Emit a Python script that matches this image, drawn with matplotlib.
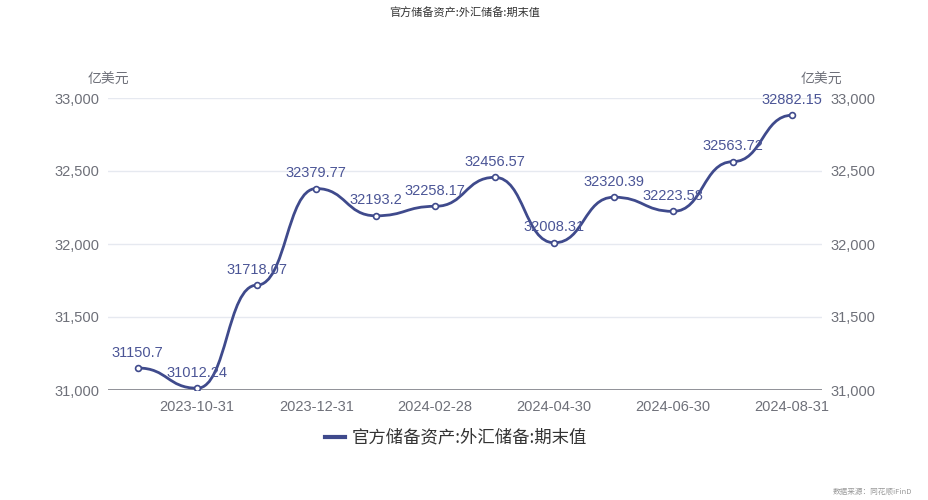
import matplotlib.pyplot as plt
import numpy as np
from matplotlib.path import Path
from matplotlib.patches import PathPatch

plt.rcParams['font.family'] = ['Liberation Sans', 'Noto Sans CJK SC', 'DejaVu Sans']

# 数据
dates = ['2023-09-30', '2023-10-31', '2023-11-30', '2023-12-31', '2024-01-31', '2024-02-28',
         '2024-03-31', '2024-04-30', '2024-05-31', '2024-06-30', '2024-07-31', '2024-08-31']
values = [31150.7, 31012.24, 31718.07, 32379.77, 32193.2, 32258.17,
          32456.57, 32008.31, 32320.39, 32223.58, 32563.72, 32882.15]
value_labels = ['31150.7', '31012.24', '31718.07', '32379.77', '32193.2', '32258.17',
                '32456.57', '32008.31', '32320.39', '32223.58', '32563.72', '32882.15']
yticks = [31000, 31500, 32000, 32500, 33000]
title = '官方储备资产:外汇储备:期末值'
unit = '亿美元'
source = '数据来源：同花顺iFinD'

line_color = '#3f4a8c'
label_color = '#4b5596'
tick_color = '#6e7079'
cjk = ['Noto Sans CJK SC', 'DejaVu Sans']


def smooth_path(xs, ys, smooth=0.5):
    # 每个点切线水平的平滑曲线 (类似 smoothMonotone: 'x')
    verts = [(xs[0], ys[0])]
    codes = [Path.MOVETO]
    for i in range(1, len(xs)):
        dx = xs[i] - xs[i - 1]
        verts += [(xs[i - 1] + dx * smooth, ys[i - 1]),
                  (xs[i] - dx * smooth, ys[i]),
                  (xs[i], ys[i])]
        codes += [Path.CURVE4] * 3
    return Path(verts, codes)


fig = plt.figure(figsize=(9.29, 5.0), dpi=100)
ax = fig.add_axes([108 / 929, 110 / 500, 714 / 929, 292 / 500])
n = len(values)
x = np.arange(n)
ax.set_xlim(-0.5, n - 0.5)
ax.set_ylim(31000, 33000)

ax.add_patch(PathPatch(smooth_path(x, values), fill=False, edgecolor=line_color, lw=2, zorder=3))
ax.plot(x, values, 'o', ms=4.2, mfc='white', mec=line_color, mew=1.2, zorder=4)

for xi, v, t in zip(x, values, value_labels):
    ax.annotate(t, (xi, v), xytext=(0, 6), textcoords='offset points', ha='center', va='bottom',
                fontsize=10.5, color=label_color, zorder=5)

# 网格和坐标轴
for yt in yticks[1:]:
    ax.axhline(yt, color='#e6e9f0', lw=1, zorder=1)
for s in ax.spines.values():
    s.set_visible(False)
ax.axhline(31000, color='#6e7079', lw=1.8, zorder=2)

ax.set_yticks(yticks)
ax.set_yticklabels([f'{t:,}' for t in yticks])
ax.tick_params(axis='y', length=0, pad=6, labelsize=10.5, labelcolor=tick_color,
               left=True, right=True, labelleft=True, labelright=True)
ax.set_xticks(x[1::2])
ax.set_xticklabels(dates[1::2])
ax.tick_params(axis='x', length=0, pad=7, labelsize=10.5, labelcolor=tick_color)

fig.text(108 / 929, 1 - 80 / 500, unit, ha='center', va='center', fontsize=10, color=tick_color,
         family=cjk)
fig.text(821 / 929, 1 - 80 / 500, unit, ha='center', va='center', fontsize=10, color=tick_color,
         family=cjk)
fig.text(0.5, 1 - 12 / 500, title, ha='center', va='center', fontsize=8, color='#333333',
         family=cjk)

# 图例
fig.lines.append(plt.Line2D([325 / 929, 345 / 929], [1 - 437 / 500] * 2, transform=fig.transFigure,
                            color=line_color, lw=3))
fig.text(352 / 929, 1 - 437 / 500, title, ha='left', va='center', fontsize=12.5, color='#333333',
         family=cjk)
fig.text(912 / 929, 1 - 492 / 500, source, ha='right', va='center', fontsize=5.5, color='#999999',
         family=cjk)

fig.savefig('out.png', dpi=100)
